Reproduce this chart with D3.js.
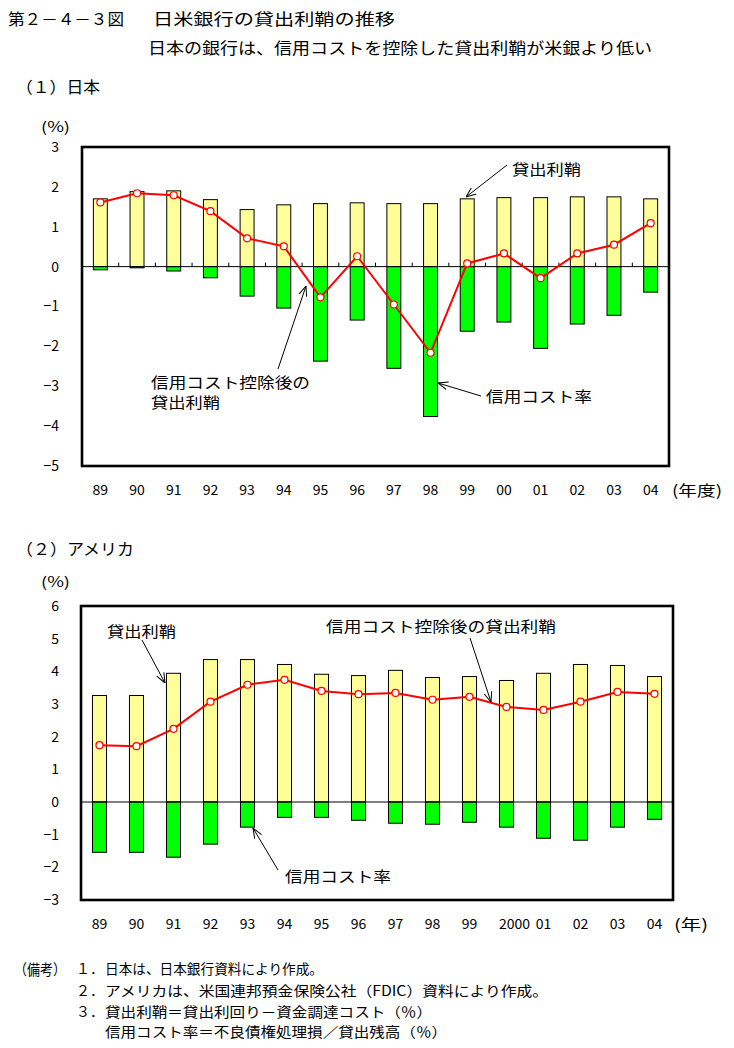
<!DOCTYPE html>
<html><head><meta charset="utf-8">
<script src="https://cdn.jsdelivr.net/npm/d3@7"></script>
<style>
body{margin:0;background:#fff;}
text{font-family:"Noto Sans CJK JP","Noto Sans",sans-serif;fill:#000;}
</style></head>
<body>
<svg id="c" width="734" height="1048"></svg>
<script>
// ---- data ----
const years1 = ["89","90","91","92","93","94","95","96","97","98","99","00","01","02","03","04"];
const spread1 = [1.70,1.88,1.90,1.68,1.43,1.55,1.58,1.60,1.58,1.58,1.70,1.73,1.73,1.75,1.75,1.70];
const credit1 = [-0.08,-0.03,-0.11,-0.28,-0.74,-1.04,-2.37,-1.34,-2.55,-3.76,-1.62,-1.39,-2.05,-1.44,-1.22,-0.64];
const net1 = [1.61,1.84,1.79,1.39,0.71,0.51,-0.77,0.26,-0.95,-2.16,0.08,0.33,-0.29,0.33,0.55,1.09];
const yTicks1 = [3,2,1,0,-1,-2,-3,-4,-5];

const years2 = ["89","90","91","92","93","94","95","96","97","98","99","2000","01","02","03","04"];
const spread2 = [3.26,3.26,3.94,4.36,4.36,4.21,3.91,3.87,4.03,3.81,3.84,3.72,3.94,4.21,4.18,3.84];
const credit2 = [-1.54,-1.54,-1.69,-1.29,-0.77,-0.47,-0.47,-0.56,-0.65,-0.68,-0.62,-0.77,-1.11,-1.17,-0.77,-0.53];
const net2 = [1.74,1.71,2.24,3.07,3.59,3.74,3.40,3.30,3.34,3.13,3.22,2.91,2.82,3.07,3.37,3.31];
const yTicks2 = [6,5,4,3,2,1,0,-1,-2,-3];

const svg = d3.select("#c");
const YELLOW = "#FFFF99", GREEN = "#00FF00", RED = "#FF0000";

svg.append("defs").append("marker")
  .attr("id","arr").attr("viewBox","0 0 10 10").attr("refX",10).attr("refY",5)
  .attr("markerWidth",10).attr("markerHeight",10).attr("markerUnits","userSpaceOnUse")
  .attr("orient","auto")
  .append("path").attr("d","M0,1 L10,5 L0,9").attr("fill","none").attr("stroke","#000").attr("stroke-width",1);

function txt(s, x, y, opts={}) {
  const t = svg.append("text").attr("x",x).attr("y",y).attr("dominant-baseline","central")
    .attr("font-size", opts.size || 15).text(s);
  if (opts.anchor) t.attr("text-anchor", opts.anchor);
  if (opts.len) t.attr("textLength", opts.len).attr("lengthAdjust","spacingAndGlyphs");
  return t;
}

function chart(cfg) {
  const {years, spread, credit, net, yTicks, L, R, T, B, ymin, ymax, zeroTicks, shift} = cfg;
  const x = d3.scaleBand().domain(years).range([L,R]).paddingInner(0.62).paddingOuter(0.31);
  const y = d3.scaleLinear().domain([ymin,ymax]).range([B,T]);
  const g = svg.append("g");
  const bw = x.bandwidth();
  g.selectAll(".sp").data(years).join("rect")
    .attr("x", d=>x(d)).attr("width", bw)
    .attr("y", (d,i)=>y(spread[i])).attr("height",(d,i)=>y(0)-y(spread[i]))
    .attr("fill",YELLOW).attr("stroke","#000").attr("stroke-width",1);
  g.selectAll(".cr").data(years).join("rect")
    .attr("x", d=>x(d)).attr("width", bw)
    .attr("y", y(0)).attr("height",(d,i)=>y(credit[i])-y(0))
    .attr("fill",GREEN).attr("stroke","#000").attr("stroke-width",1);
  g.append("line").attr("x1",L).attr("x2",R).attr("y1",y(0)).attr("y2",y(0)).attr("stroke","#000").attr("stroke-width",1);
  if (zeroTicks) {
    const step = x.step();
    years.slice(1).forEach(d=>{
      const bx = x(d) + bw/2 - step/2;
      g.append("line").attr("x1",bx).attr("x2",bx).attr("y1",y(0)).attr("y2",y(0)-4).attr("stroke","#000");
    });
  }
  const line = d3.line().x((d,i)=>x(years[i])+bw/2).y(d=>y(d));
  g.append("path").datum(net).attr("d",line).attr("fill","none").attr("stroke",RED).attr("stroke-width",2);
  g.selectAll(".pt").data(net).join("circle")
    .attr("cx",(d,i)=>x(years[i])+bw/2).attr("cy",d=>y(d)).attr("r",3.5)
    .attr("fill","#fff").attr("stroke",RED).attr("stroke-width",1.2);
  g.append("rect").attr("x",L).attr("y",T).attr("width",R-L).attr("height",B-T)
    .attr("fill","none").attr("stroke","#000").attr("stroke-width",2.6);
  const ya = d3.axisLeft(y).tickValues(yTicks).tickSize(0).tickPadding(0).tickFormat(d3.format("d"));
  const ag = svg.append("g").attr("transform",`translate(${59},0)`).call(ya);
  ag.select(".domain").remove();
  ag.selectAll("text").attr("font-size",14).attr("font-family",'"Noto Sans CJK JP",sans-serif');
  const xa = d3.axisBottom(x).tickSize(0).tickPadding(0);
  const xg = svg.append("g").attr("transform",`translate(0,${B+23})`).call(xa);
  xg.select(".domain").remove();
  xg.selectAll("text").attr("font-size",14).attr("dy",0).attr("dominant-baseline","central")
    .attr("font-family",'"Noto Sans CJK JP",sans-serif')
    .attr("dx", d => (shift && shift[d]) || 0);
  return {x,y};
}

function arrow(x1,y1,x2,y2){
  svg.append("line").attr("x1",x1).attr("y1",y1).attr("x2",x2).attr("y2",y2)
    .attr("stroke","#000").attr("stroke-width",1).attr("marker-end","url(#arr)");
}

// titles
txt("第２－４－３図", 8, 18, {size:16, len:116});
txt("日米銀行の貸出利鞘の推移", 153, 18, {size:16, len:242});
txt("日本の銀行は、信用コストを控除した貸出利鞘が米銀より低い", 148, 47, {size:16, len:504});
txt("（１）日本", 16, 86, {size:16, len:84});

// chart 1
chart({years:years1, spread:spread1, credit:credit1, net:net1, yTicks:yTicks1,
  L:82, R:669, T:147, B:466, ymin:-5, ymax:3, zeroTicks:true});
txt("(%)", 41, 126, {size:14, len:29});
txt("(年度)", 672, 489, {size:15, len:50});
txt("貸出利鞘", 512, 168, {size:15, len:69});
arrow(507,165,466,197);
txt("信用コスト率", 486, 395, {size:15, len:106});
arrow(481,396,438,383);
txt("信用コスト控除後の", 151, 381, {size:15, len:159});
txt("貸出利鞘", 151, 401, {size:15, len:69});
arrow(278,369,306,286);

// chart 2
txt("（２）アメリカ", 16, 548, {size:16, len:118});
chart({years:years2, spread:spread2, credit:credit2, net:net2, yTicks:yTicks2,
  L:81, R:673, T:606, B:900, ymin:-3, ymax:6, zeroTicks:false, shift:{"2000":8}});
txt("(%)", 41, 581, {size:14, len:29});
txt("(年)", 674, 923, {size:15, len:34});
txt("貸出利鞘", 107, 630, {size:15, len:69});
arrow(142,640,165,683);
txt("信用コスト控除後の貸出利鞘", 326, 625, {size:15, len:230});
arrow(470,638,491,702);
txt("信用コスト率", 285, 875, {size:15, len:106});
arrow(278,870,253,828);

// notes
txt("（備考）", 14, 968, {size:15, len:52});
txt("１．", 76, 968, {size:14});
txt("日本は、日本銀行資料により作成。", 105, 968, {size:14, len:218});
txt("２．", 76, 990, {size:14});
txt("アメリカは、米国連邦預金保険公社（FDIC）資料により作成。", 105, 990, {size:14, len:443});
txt("３．", 76, 1011, {size:14});
txt("貸出利鞘＝貸出利回り－資金調達コスト（％）", 105, 1011, {size:14, len:327});
txt("信用コスト率＝不良債権処理損／貸出残高（％）", 105, 1031, {size:14, len:342});
</script>
</body></html>
